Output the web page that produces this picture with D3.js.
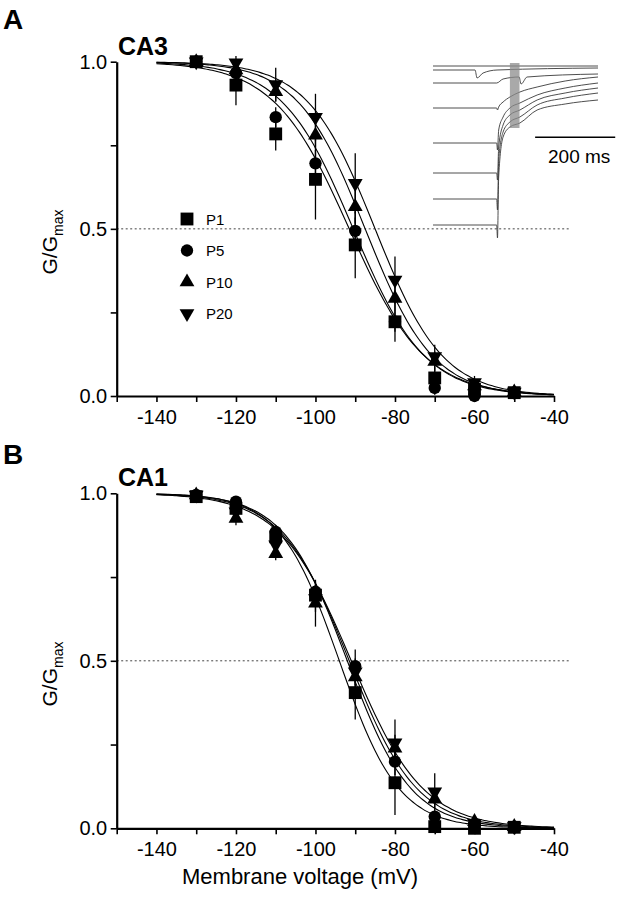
<!DOCTYPE html>
<html><head><meta charset="utf-8">
<script src="https://cdn.jsdelivr.net/npm/d3@7"></script>
<style>
body{margin:0;background:#fff}
svg{display:block}
text{font-family:"Liberation Sans",Arial,Helvetica,sans-serif;fill:#000}
</style>
</head><body>
<svg id="chart" width="621" height="899"></svg>
<script>
// ---------- data ----------
const voltages = [-130, -120, -110, -100, -90, -80, -70, -60, -50];
const seriesNames = ["P1", "P5", "P10", "P20"];
const xTicks = [-150, -140, -130, -120, -110, -100, -90, -80, -70, -60, -50, -40];
const xTickLabels = [-140, -120, -100, -80, -60, -40];
const yTicks = [0, 0.25, 0.5, 0.75, 1.0];
const yTickLabels = ["0.0", "0.5", "1.0"];

// CA3 mean G/Gmax
const ca3P1  = [1.00, 0.930, 0.784, 0.648, 0.452, 0.222, 0.054, 0.020, 0.010];
const ca3P5  = [1.00, 0.966, 0.834, 0.696, 0.494, 0.222, 0.024, 0.000, 0.010];
const ca3P10 = [1.00, 0.975, 0.910, 0.780, 0.566, 0.292, 0.103, 0.030, 0.012];
const ca3P20 = [1.00, 0.997, 0.932, 0.834, 0.636, 0.347, 0.118, 0.040, 0.012];
// CA3 SEM
const ca3P1err  = [0.01, 0.060, 0.050, 0.120, 0.100, 0.060, 0.030, 0.010, 0.005];
const ca3P5err  = [0.01, 0.020, 0.030, 0.040, 0.040, 0.030, 0.020, 0.010, 0.005];
const ca3P10err = [0.01, 0.020, 0.030, 0.040, 0.050, 0.040, 0.030, 0.010, 0.005];
const ca3P20err = [0.01, 0.020, 0.050, 0.070, 0.090, 0.070, 0.035, 0.020, 0.005];

// CA1 mean G/Gmax
const ca1P1  = [0.990, 0.955, 0.870, 0.696, 0.405, 0.136, 0.005, 0.000, 0.003];
const ca1P5  = [0.995, 0.975, 0.885, 0.706, 0.484, 0.199, 0.035, 0.010, 0.005];
const ca1P10 = [0.995, 0.925, 0.820, 0.672, 0.452, 0.239, 0.087, 0.020, 0.005];
const ca1P20 = [0.995, 0.945, 0.846, 0.686, 0.467, 0.255, 0.109, 0.015, 0.005];
// CA1 SEM
const ca1P1err  = [0.01, 0.02, 0.02, 0.03, 0.080, 0.096, 0.005, 0.005, 0.003];
const ca1P5err  = [0.01, 0.01, 0.02, 0.03, 0.050, 0.040, 0.020, 0.010, 0.003];
const ca1P10err = [0.01, 0.02, 0.02, 0.07, 0.040, 0.040, 0.030, 0.010, 0.003];
const ca1P20err = [0.01, 0.02, 0.03, 0.04, 0.040, 0.070, 0.055, 0.010, 0.003];

// Boltzmann fit parameters (V1/2 in mV, slope k in mV)
const ca3Vhalf = [-91.5, -90.5, -87.5, -85.0];
const ca3Slope = [9.5, 9.0, 8.5, 8.5];
const ca1Vhalf = [-94.0, -92.0, -91.5, -91.0];
const ca1Slope = [7.5, 8.0, 8.5, 9.0];
const fitRange = [-140, -40];

// Inset current traces: [time ms, current a.u.]
const traceTimes = [0, 159, 161, 164, 175, 192, 217, 260, 330, 412];
const trace1 = [[0, 0], [412, 0]];
const trace2 = [[0, -4], [105, -4], [110, -12], [125, -7], [160, -4], [412, -2]];
const trace3 = [[0, -17], [159, -17], [175, -13], [215, -11], [220, -18], [235, -11], [412, -8]];
const trace4 = [-42, -42, -44, -41, -36, -31, -26, -21, -15, -11];
const trace5 = [-77, -77, -84, -64, -51, -42, -37, -29, -22, -17];
const trace6 = [-107, -107, -114, -81, -59, -49, -44, -34, -27, -22];
const trace7 = [-133, -133, -144, -94, -66, -56, -51, -39, -32, -27];
const trace8 = [-159, -159, -172, -111, -71, -61, -57, -44, -38, -34];
const insetBox = [192, 216, 3, -62];   // t0, t1, v0, v1 of grey window
const scaleBarMs = 200;

// ---------- drawing ----------
const svg = d3.select("#chart");
svg.append("rect").attr("width", 621).attr("height", 899).attr("fill", "#fff");

const x = d3.scaleLinear().domain([-150, -40]).range([116.7, 554]);

const symbols = [
  d3.symbol().type(d3.symbolSquare).size(165),
  d3.symbol().type(d3.symbolCircle).size(120),
  d3.symbol().type(d3.symbolTriangle).size(95),
  d3.symbol().type(d3.symbolTriangle).size(95)
];
const rot = [0, 0, 0, 180];

function drawPanel(cfg) {
  const g = svg.append("g");
  const y = d3.scaleLinear().domain([0, 1]).range([cfg.bottom, cfg.top]);

  // dotted half line
  g.append("line")
    .attr("x1", x(-150)).attr("x2", x(-36))
    .attr("y1", y(0.5)).attr("y2", y(0.5))
    .attr("stroke", "#444").attr("stroke-width", 1)
    .attr("stroke-dasharray", "2,2.5");

  // fits
  const line = d3.line().x(d => x(d[0])).y(d => y(d[1])).curve(d3.curveMonotoneX);
  cfg.vhalf.forEach((vh, i) => {
    const pts = d3.range(fitRange[0], fitRange[1] + 0.01, 1).map(v => [v, 1 / (1 + Math.exp((v - vh) / cfg.slope[i]))]);
    g.append("path").attr("d", line(pts)).attr("fill", "none")
      .attr("stroke", "#000").attr("stroke-width", 1.1);
  });

  // error bars
  cfg.series.forEach((s, i) => {
    voltages.forEach((v, j) => {
      const e = cfg.errs[i][j];
      g.append("line").attr("x1", x(v)).attr("x2", x(v))
        .attr("y1", y(Math.max(0, s[j] - e))).attr("y2", y(s[j] + e))
        .attr("stroke", "#000").attr("stroke-width", 1.3);
    });
  });

  // markers
  cfg.series.forEach((s, i) => {
    g.selectAll(null).data(voltages).enter().append("path")
      .attr("d", symbols[i])
      .attr("transform", (v, j) => `translate(${x(v)},${y(s[j])}) rotate(${rot[i]})`)
      .attr("fill", "#000");
  });

  // axes
  const xAxis = d3.axisBottom(x).tickValues(xTicks).tickSize(6).tickSizeOuter(0).tickPadding(8)
    .tickFormat(d => xTickLabels.includes(d) ? String(d) : "");
  const xa = g.append("g").attr("transform", `translate(0,${cfg.bottom})`).call(xAxis);
  const yAxis = d3.axisLeft(y).tickValues(yTicks).tickSize(6).tickSizeOuter(0).tickPadding(3.5)
    .tickFormat(d => d === 0 ? yTickLabels[0] : d === 0.5 ? yTickLabels[1] : d === 1 ? yTickLabels[2] : "");
  const ya = g.append("g").attr("transform", `translate(${x(-150)},0)`).call(yAxis);
  [xa, ya].forEach(a => {
    a.select(".domain").attr("stroke-width", 2.2);
    a.selectAll(".tick line").attr("stroke-width", 1.6);
    a.selectAll("text").attr("font-size", 20).attr("fill", "#000")
      .attr("font-family", '"Liberation Sans",Arial,sans-serif');
  });

  // y axis title
  const yt = g.append("text")
    .attr("transform", `translate(57,${cfg.ylabelY}) rotate(-90)`)
    .attr("text-anchor", "middle").attr("font-size", 21);
  yt.append("tspan").text("G/G");
  yt.append("tspan").text("max").attr("font-size", 14).attr("dy", 6);

  // region title
  g.append("text").attr("x", 118).attr("y", cfg.top - 7).attr("font-size", 25)
    .attr("font-weight", "bold").text(cfg.title);
  g.append("text").attr("x", 3).attr("y", cfg.letterY).attr("font-size", 28)
    .attr("font-weight", "bold").text(cfg.letter);

  return { g, y };
}

drawPanel({
  top: 61.7, bottom: 396, title: "CA3", letter: "A", letterY: 29, ylabelY: 242,
  series: [ca3P1, ca3P5, ca3P10, ca3P20],
  errs: [ca3P1err, ca3P5err, ca3P10err, ca3P20err],
  vhalf: ca3Vhalf, slope: ca3Slope
});
drawPanel({
  top: 493.3, bottom: 828.3, title: "CA1", letter: "B", letterY: 464, ylabelY: 674,
  series: [ca1P1, ca1P5, ca1P10, ca1P20],
  errs: [ca1P1err, ca1P5err, ca1P10err, ca1P20err],
  vhalf: ca1Vhalf, slope: ca1Slope
});

// legend (panel A)
const leg = svg.append("g");
seriesNames.forEach((n, i) => {
  const ly = 219 + i * 31.5;
  leg.append("path").attr("d", symbols[i]).attr("fill", "#000")
    .attr("transform", `translate(187,${ly}) rotate(${rot[i]})`);
  leg.append("text").attr("x", 206).attr("y", ly + 5.5).attr("font-size", 15).text(n);
});

// inset traces
const tx = d3.scaleLinear().domain([0, 412]).range([433, 598]);
const ty = d3.scaleLinear().domain([0, -180]).range([66, 246]);
const inset = svg.append("g");
const tl = d3.line().x(d => tx(d[0])).y(d => ty(d[1])).curve(d3.curveMonotoneX);
[trace1, trace2, trace3].forEach(tr => {
  inset.append("path").attr("d", tl(tr)).attr("fill", "none").attr("stroke", "#3a3a3a").attr("stroke-width", 0.9);
});
[trace4, trace5, trace6, trace7, trace8].forEach(tr => {
  const pts = traceTimes.map((t, k) => [t, tr[k]]);
  inset.append("path").attr("d", tl(pts)).attr("fill", "none").attr("stroke", "#3a3a3a").attr("stroke-width", 0.9);
});
inset.append("rect")
  .attr("x", tx(insetBox[0])).attr("width", tx(insetBox[1]) - tx(insetBox[0]))
  .attr("y", ty(insetBox[2])).attr("height", ty(insetBox[3]) - ty(insetBox[2]))
  .attr("fill", "#8c8c8c").attr("opacity", 0.75);
// scale bar
inset.append("line").attr("x1", tx(255)).attr("x2", tx(255 + scaleBarMs))
  .attr("y1", 137.3).attr("y2", 137.3).attr("stroke", "#000").attr("stroke-width", 1.5);
inset.append("text").attr("x", 548).attr("y", 163).attr("font-size", 19).text(scaleBarMs + " ms");

// x title
svg.append("text").attr("x", 300).attr("y", 884).attr("text-anchor", "middle")
  .attr("font-size", 22).text("Membrane voltage (mV)");
</script>
</body></html>
